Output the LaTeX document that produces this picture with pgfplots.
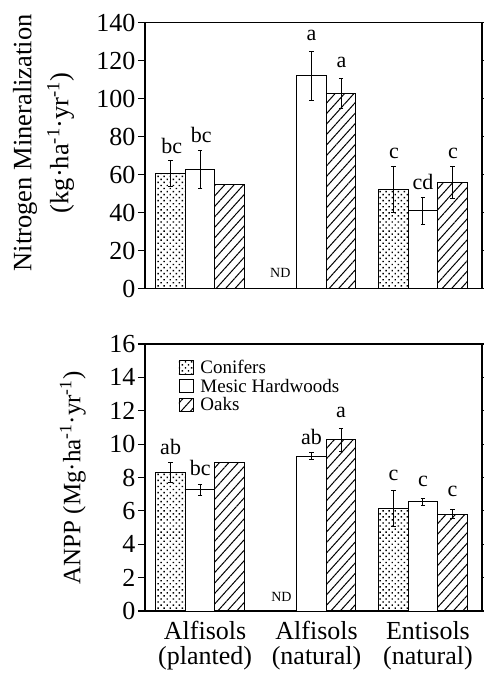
\documentclass[border=0pt]{standalone}
\usepackage{fontspec}
\setmainfont{Liberation Serif}
\usepackage{pgfplots}
\pgfplotsset{compat=1.18}
\usetikzlibrary{patterns.meta}

\pgfplotsset{
  soilaxis/.style={
    scale only axis, width=337pt,
    xmin=0.505, xmax=3.53, ymin=0,
    axis line style={line width=1.1pt},
    every tick/.style={black, line width=1.1pt},
    ytick align=outside, major tick length=7pt,
    xtick style={draw=none},
    tick label style={font=\fontsize{26}{26}\selectfont},
    yticklabel style={xshift=1pt},
    /pgf/number format/assume math mode=true,
    ybar, bar width=0.265,
    error bars/y dir=both, error bars/y explicit,
    error bars/error bar style={line width=1pt},
    error bars/error mark options={line width=1pt, mark size=2.2pt, rotate=90},
  },
  conif/.style={draw=black, line width=1pt, bar shift=-0.265,
    pattern={Dots[angle=45, distance=4.3pt, radius=1pt]}},
  mesic/.style={draw=black, fill=white, line width=1pt, bar shift=0},
  oak/.style={draw=black, line width=1pt, bar shift=0.265,
    pattern={Lines[angle=48, distance=7pt, line width=1pt]}},
}
\tikzset{
  lab/.style={font=\fontsize{22}{22}\selectfont, inner sep=0pt},
  ndlab/.style={font=\fontsize{14}{14}\selectfont, inner sep=0pt},
}

\begin{document}
\begin{tikzpicture}
\path[use as bounding box] (0pt,0pt) rectangle (484pt,675pt);

% nitrogen mineralization
\begin{axis}[soilaxis, at={(145pt,386.3pt)}, anchor=south west, height=266pt,
  ymax=140, ytick={0,20,...,140}, xtick=\empty,
  ylabel={Nitrogen Mineralization\\(kg·ha\textsuperscript{-1}·yr\textsuperscript{-1})},
  ylabel style={at={(axis description cs:-0.301,0.548)}, anchor=center,
    align=center, font=\fontsize{26.5}{37}\selectfont},
]
\addplot[conif] coordinates {(1,60.7) +- (0,7) (3,52.3) +- (0,12)};
\addplot[mesic] coordinates {(1,62.8) +- (0,10) (2,112) +- (0,13) (3,40.9) +- (0,7.3)};
\addplot[oak] coordinates {(1,54.6) +- (0,0) (2,102.8) +- (0,8) (3,55.8) +- (0,8.3)};
\node[lab] at (axis cs:0.745,75.3) {bc};
\node[lab] at (axis cs:1.01,80.9) {bc};
\node[lab] at (axis cs:2.0,133.5) {a};
\node[lab] at (axis cs:2.27,118.9) {a};
\node[lab] at (axis cs:2.74,71.2) {c};
\node[lab] at (axis cs:3.0,56.3) {cd};
\node[lab] at (axis cs:3.27,71.2) {c};
\node[ndlab] at (axis cs:1.72,8.4) {ND};
\end{axis}

% ANPP
\begin{axis}[soilaxis, at={(145pt,64pt)}, anchor=south west, height=267pt,
  ymax=16, ytick={0,2,...,16},
  xtick={1,2,3},
  xticklabels={{Alfisols\\(planted)},{Alfisols\\(natural)},{Entisols\\(natural)}},
  xticklabel style={align=center, xshift=5pt, font=\fontsize{26}{25}\selectfont},
  ylabel={ANPP (Mg·ha\textsuperscript{-1}·yr\textsuperscript{-1})},
  ylabel style={at={(axis description cs:-0.214,0.498)}, anchor=center,
    font=\fontsize{25}{25}\selectfont},
  legend style={at={(axis description cs:0.09,0.955)}, anchor=north west,
    draw=none, fill=none, font=\fontsize{19}{20}\selectfont, row sep=0pt},
  legend cell align=left,
  legend image code/.code={\draw[#1, line width=0.9pt] (0pt,-6.5pt) rectangle (14pt,7pt);
    \path (19pt,0pt);},
]
\addplot[conif] coordinates {(1,8.29) +- (0,0.6) (3,6.15) +- (0,1.08)};
\addlegendentry{Conifers}
\addplot[mesic] coordinates {(1,7.27) +- (0,0.32) (2,9.27) +- (0,0.2) (3,6.55) +- (0,0.21)};
\addlegendentry{Mesic Hardwoods}
\addplot[oak] coordinates {(1,8.89) +- (0,0) (2,10.25) +- (0,0.68) (3,5.79) +- (0,0.27)};
\addlegendentry{Oaks}
\node[lab] at (axis cs:0.735,9.84) {ab};
\node[lab] at (axis cs:1.0,8.55) {bc};
\node[lab] at (axis cs:2.0,10.44) {ab};
\node[lab] at (axis cs:2.265,11.88) {a};
\node[lab] at (axis cs:2.735,8.15) {c};
\node[lab] at (axis cs:3.0,7.75) {c};
\node[lab] at (axis cs:3.265,7.15) {c};
\node[ndlab] at (axis cs:1.73,0.86) {ND};
\end{axis}
\end{tikzpicture}
\end{document}
